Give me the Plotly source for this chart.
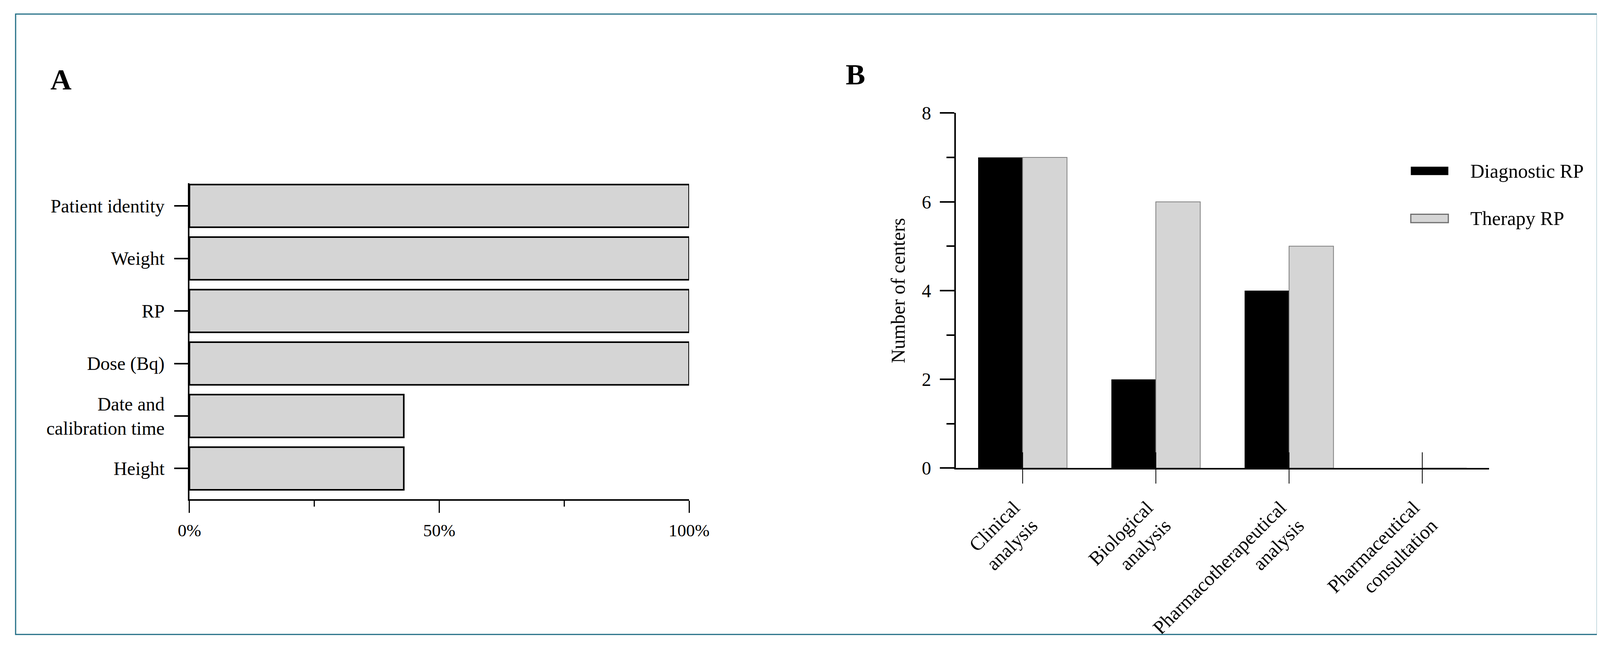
import plotly.graph_objects as go

# panel A - information on the prescription (% of centers)
fields = ['Patient identity', 'Weight', 'RP', 'Dose (Bq)',
          'Date and<br>calibration time', 'Height']
pct_centers = [100, 100, 100, 100, 42.9, 42.9]

# panel B - number of centers per activity
activities = ['Clinical<br>analysis', 'Biological<br>analysis',
              'Pharmacotherapeutical<br>analysis', 'Pharmaceutical<br>consultation']
diagnostic_rp = [7, 2, 4, 0]
therapy_rp = [7, 6, 5, 0]

W, H = 4184, 1682
# the page puts the figure a little down and right in the photo, so
# positions taken from the reference are moved back to line up
OX = 37
OY, SY = 32, 1.006
serif = 'Liberation Serif'
grey = '#d5d5d5'


def px(x):
    return (x - OX) / W


def py(y):
    return 1 - (SY * y - OY) / H


def sfont(size):
    return dict(family=serif, size=size, color='black')


fig = go.Figure()

fig.add_trace(go.Bar(x=pct_centers, y=fields, orientation='h', width=0.813,
                     marker=dict(color=grey, line=dict(color='black', width=4)),
                     xaxis='x', yaxis='y', showlegend=False))

fig.add_trace(go.Bar(x=activities, y=diagnostic_rp, name='Diagnostic RP',
                     marker=dict(color='black', line=dict(width=0)),
                     xaxis='x2', yaxis='y2'))
fig.add_trace(go.Bar(x=activities, y=therapy_rp, name='Therapy RP',
                     marker=dict(color=grey, line=dict(color='#808080', width=2)),
                     xaxis='x2', yaxis='y2'))
# carrier for the inner half of the category ticks
fig.add_trace(go.Scatter(x=activities, y=[0] * len(activities), mode='markers',
                         marker=dict(opacity=0), xaxis='x3', yaxis='y2',
                         showlegend=False, hoverinfo='skip'))

fig.update_layout(
    width=W, height=H,
    margin=dict(l=0, r=0, t=0, b=0),
    plot_bgcolor='white', paper_bgcolor='white',
    showlegend=False,
    barmode='group', bargap=0.333, bargroupgap=0,
    font=dict(family=serif, color='black'),
    xaxis=dict(domain=[px(493), px(1798)], anchor='y', range=[0, 100],
               dtick=50, ticksuffix='%', showgrid=False, zeroline=False,
               showline=True, linewidth=4, linecolor='black',
               ticks='outside', ticklen=31, tickwidth=3, tickcolor='black',
               minor=dict(dtick=25, ticks='outside', ticklen=15, tickwidth=3,
                          tickcolor='black', showgrid=False),
               tickfont=sfont(45), ticklabelstandoff=6),
    yaxis=dict(domain=[py(1309), py(478)], anchor='x', type='category',
               categoryorder='array', categoryarray=fields,
               range=[5.587, -0.435], showgrid=False, zeroline=False,
               showline=True, linewidth=4, linecolor='black',
               ticks='outside', ticklen=35, tickwidth=4, tickcolor='black',
               tickfont=sfont(48), ticklabelstandoff=15),
    xaxis2=dict(domain=[px(2495), px(3887)], anchor='y2', type='category',
                categoryorder='array', categoryarray=activities,
                range=[-0.5, 3.5], showgrid=False, zeroline=False,
                showline=True, linewidth=4, linecolor='black',
                ticks='outside', ticklen=36, tickwidth=2, tickcolor='black',
                tickangle=-45, tickfont=sfont(50),
                ticklabelshift=-22, ticklabelstandoff=12),
    xaxis3=dict(overlaying='x2', anchor='y2', type='category',
                categoryorder='array', categoryarray=activities,
                range=[-0.5, 3.5], showgrid=False, zeroline=False,
                showline=False, ticks='inside', ticklen=40, tickwidth=2,
                tickcolor='black', showticklabels=False),
    yaxis2=dict(domain=[py(1227), py(294)], anchor='x2', range=[0, 8],
                dtick=2, showgrid=False, zeroline=False,
                showline=True, linewidth=4, linecolor='black',
                ticks='outside', ticklen=37, tickwidth=4, tickcolor='black',
                minor=dict(dtick=1, ticks='outside', ticklen=20, tickwidth=4,
                           tickcolor='black', showgrid=False),
                tickfont=sfont(48), ticklabelstandoff=13,
                title=dict(text='Number of centers', font=sfont(50), standoff=28)),
)

# panel letters
fig.add_annotation(text='<b>A</b>', x=px(157), y=py(206), xref='paper', yref='paper',
                   xanchor='center', yanchor='middle', showarrow=False, font=sfont(75))
fig.add_annotation(text='<b>B</b>', x=px(2233), y=py(192), xref='paper', yref='paper',
                   xanchor='center', yanchor='middle', showarrow=False, font=sfont(75))

# legend drawn by hand so the swatches keep their wide shape
legend_rows = [('Diagnostic RP', 'black', 'black', 0, 446),
               ('Therapy RP', grey, '#6e6e6e', 3, 571)]
for label, fill, edge, lw, yc in legend_rows:
    fig.add_shape(type='rect', xref='paper', yref='paper',
                  x0=px(3683), x1=px(3781), y0=py(yc - 11), y1=py(yc + 11),
                  fillcolor=fill, line=dict(color=edge, width=lw))
    fig.add_annotation(text=label, x=px(3836), y=py(yc), xref='paper', yref='paper',
                       xanchor='left', yanchor='middle', showarrow=False,
                       font=sfont(50))

# outer frame (left and top sides sit on the paper edge)
fig.add_shape(type='rect', xref='paper', yref='paper',
              x0=px(OX + 2), x1=px(4170), y0=py(1664), y1=1 - 2 / H,
              line=dict(color='#236f86', width=3))

fig.write_html('out.html')
